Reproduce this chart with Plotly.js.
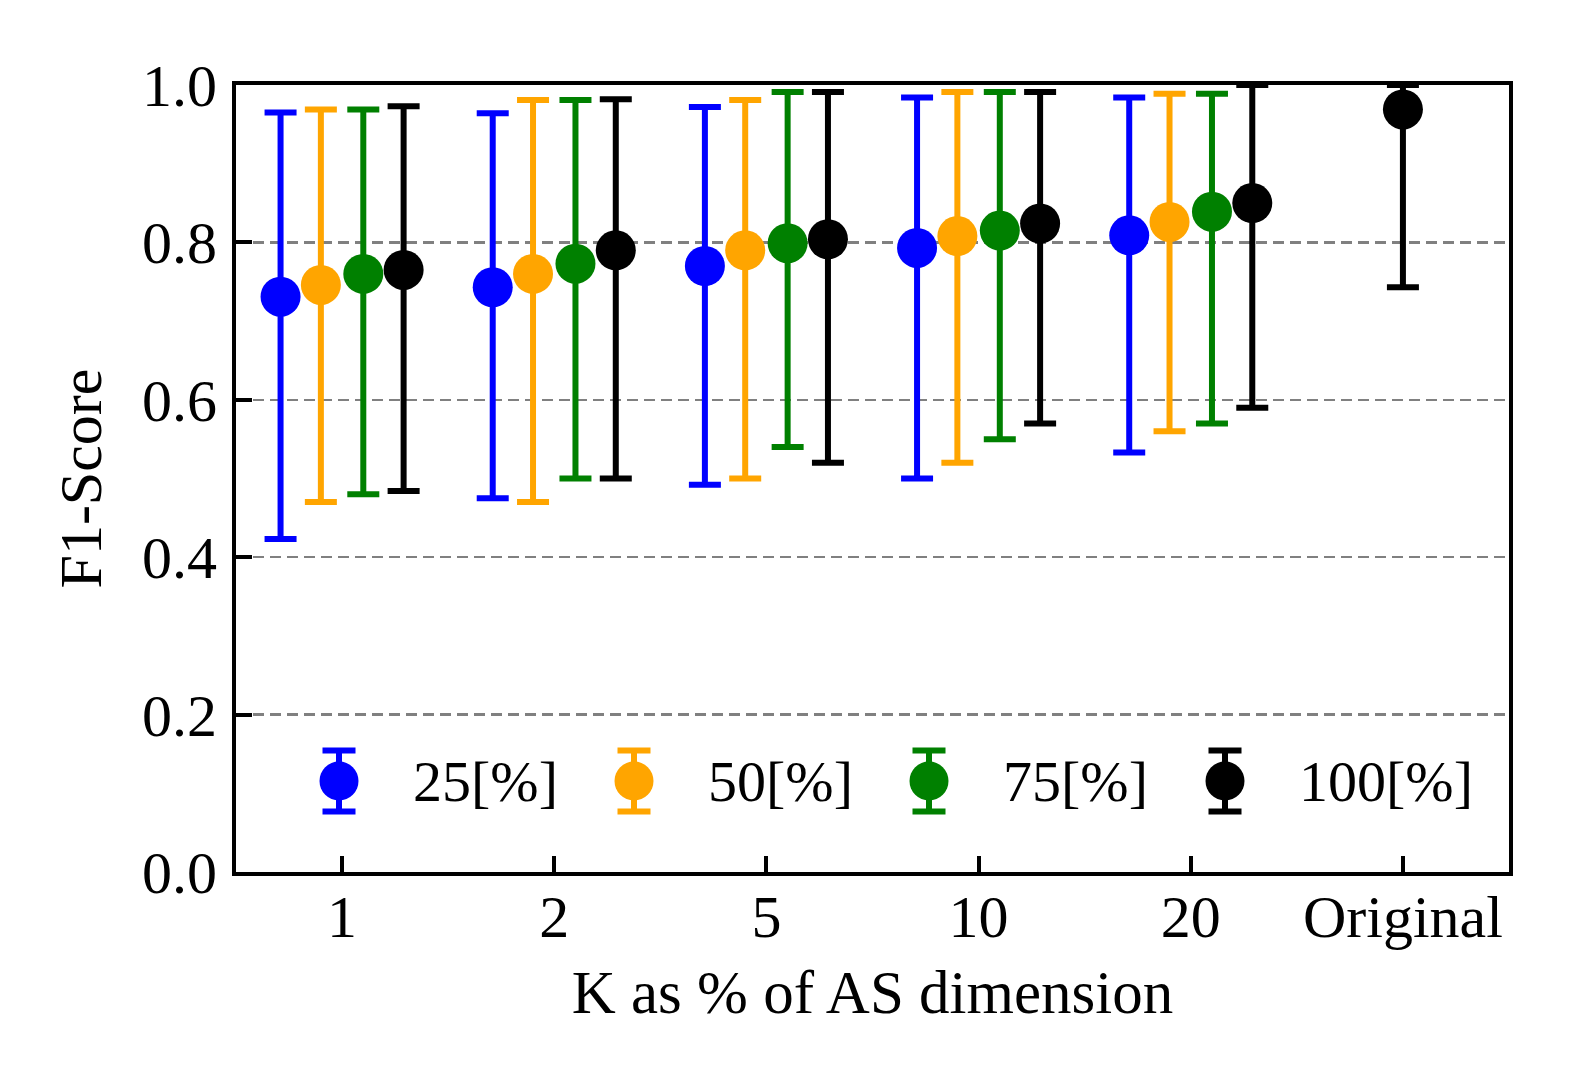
<!DOCTYPE html>
<html>
<head>
<meta charset="utf-8">
<script src="https://cdn.plot.ly/plotly-3.0.1.min.js"></script>
<style>html,body{margin:0;padding:0;background:#fff;}#chart{width:1578px;height:1085px;}</style>
</head>
<body>
<div id="chart"></div>
<script>
// ---- data ----
const categories = ['1', '2', '5', '10', '20', 'Original'];
const seriesNames = ['25[%]', '50[%]', '75[%]', '100[%]'];

const mean25  = [0.731, 0.743, 0.770, 0.793, 0.809];
const upper25 = [0.965, 0.964, 0.972, 0.984, 0.984];
const lower25 = [0.423, 0.475, 0.492, 0.500, 0.533];

const mean50  = [0.746, 0.760, 0.790, 0.808, 0.826];
const upper50 = [0.969, 0.981, 0.981, 0.991, 0.989];
const lower50 = [0.470, 0.470, 0.500, 0.520, 0.560];

const mean75  = [0.760, 0.773, 0.799, 0.815, 0.839];
const upper75 = [0.969, 0.981, 0.991, 0.991, 0.989];
const lower75 = [0.480, 0.500, 0.540, 0.550, 0.570];

const mean100  = [0.765, 0.790, 0.804, 0.824, 0.850, 0.969];
const upper100 = [0.973, 0.982, 0.991, 0.991, 1.000, 1.000];
const lower100 = [0.484, 0.500, 0.520, 0.570, 0.590, 0.743];

const yTicks = [0, 0.2, 0.4, 0.6, 0.8, 1.0];

// ---- styling ----
const colors = ['#0000ff', '#ffa500', '#008000', '#000000'];
const offsets = [-0.29, -0.1, 0.1, 0.29];
const FONT = '"Liberation Serif", "DejaVu Serif", serif';

const groups = [
  [mean25, upper25, lower25],
  [mean50, upper50, lower50],
  [mean75, upper75, lower75],
  [mean100, upper100, lower100]
];

const traces = groups.map((g, s) => {
  const [m, u, l] = g;
  return {
    type: 'scatter',
    mode: 'markers',
    name: seriesNames[s],
    x: m.map((_, i) => i + (categories[i] === 'Original' ? 0 : offsets[s])),
    y: m,
    marker: {color: colors[s], size: 40, line: {width: 0}},
    error_y: {
      type: 'data', symmetric: false,
      array: m.map((v, i) => u[i] - v),
      arrayminus: m.map((v, i) => v - l[i]),
      color: colors[s], thickness: 6, width: 16
    },
    cliponaxis: false,
    showlegend: false,
    hoverinfo: 'skip'
  };
});

// ---- plot geometry (pixels) ----
const W = 1578, H = 1085;
const L = 236, R = 1509, T = 85, B = 872;
const px = v => (v - L) / (R - L);
const py = v => (B - v) / (B - T);

// hand-made legend (marker + error bar glyph + label)
const legX = [339, 634, 929, 1225];
const legY = 781;
const shapes = [];
const annotations = [];
seriesNames.forEach((name, s) => {
  const ax = px(legX[s]), ay = py(legY);
  const c = colors[s];
  shapes.push({type: 'line', xref: 'paper', yref: 'paper', xsizemode: 'pixel', ysizemode: 'pixel',
    xanchor: ax, yanchor: ay, x0: 0, x1: 0, y0: -30.5, y1: 30.5, line: {color: c, width: 6}});
  shapes.push({type: 'line', xref: 'paper', yref: 'paper', xsizemode: 'pixel', ysizemode: 'pixel',
    xanchor: ax, yanchor: ay, x0: -16.5, x1: 16.5, y0: 30.5, y1: 30.5, line: {color: c, width: 6}});
  shapes.push({type: 'line', xref: 'paper', yref: 'paper', xsizemode: 'pixel', ysizemode: 'pixel',
    xanchor: ax, yanchor: ay, x0: -16.5, x1: 16.5, y0: -30.5, y1: -30.5, line: {color: c, width: 6}});
  shapes.push({type: 'circle', xref: 'paper', yref: 'paper', xsizemode: 'pixel', ysizemode: 'pixel',
    xanchor: ax, yanchor: ay, x0: -19.5, x1: 19.5, y0: -19.5, y1: 19.5, fillcolor: c, line: {width: 0}});
  annotations.push({xref: 'paper', yref: 'paper', x: px(legX[s] + 72), y: ay,
    xanchor: 'left', yanchor: 'middle', showarrow: false, text: name,
    font: {family: FONT, size: 58, color: '#000'}});
});

const layout = {
  width: W, height: H,
  margin: {l: L, r: W - R, t: T, b: H - B, pad: 0},
  paper_bgcolor: '#fff', plot_bgcolor: '#fff',
  font: {family: FONT, size: 60, color: '#000'},
  showlegend: false,
  xaxis: {
    range: [-0.5, 5.5],
    tickmode: 'array',
    tickvals: categories.map((_, i) => i),
    ticktext: categories,
    ticks: 'inside', ticklen: 16, tickwidth: 4, tickcolor: '#000',
    showline: true, linecolor: '#000', linewidth: 4, mirror: true,
    showgrid: false, zeroline: false,
    tickfont: {family: FONT, size: 60, color: '#000'},
    ticklabelstandoff: -11,
    title: {text: 'K as % of AS dimension', font: {family: FONT, size: 61, color: '#000'}, standoff: 22},
    automargin: false, fixedrange: true
  },
  yaxis: {
    range: [0, 1],
    tickmode: 'array',
    tickvals: yTicks,
    ticktext: yTicks.map(v => v.toFixed(1)),
    ticks: 'inside', ticklen: 16, tickwidth: 4, tickcolor: '#000',
    showline: true, linecolor: '#000', linewidth: 4, mirror: true,
    showgrid: true, gridcolor: '#808080', gridwidth: 2.2, griddash: '11px,6px',
    zeroline: false,
    tickfont: {family: FONT, size: 60, color: '#000'},
    ticklabelstandoff: 3,
    title: {text: 'F1-Score', font: {family: FONT, size: 60, color: '#000'}, standoff: 22},
    automargin: false, fixedrange: true
  },
  shapes: shapes,
  annotations: annotations
};

Plotly.newPlot('chart', traces, layout, {displayModeBar: false, staticPlot: true});
</script>
</body>
</html>
